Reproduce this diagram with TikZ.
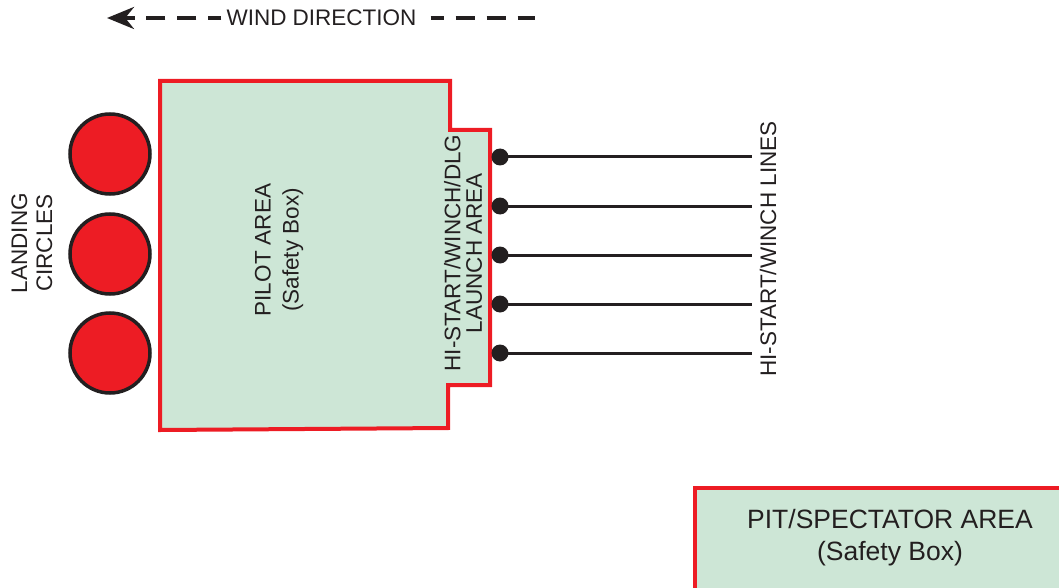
\documentclass[tikz,border=0pt]{standalone}
\usepackage{fontspec}
\setmainfont{Liberation Sans}
\usetikzlibrary{arrows.meta,positioning}
\definecolor{zonered}{RGB}{237,28,36}
\definecolor{zonegreen}{RGB}{205,230,214}
\definecolor{inkblack}{RGB}{35,31,32}

\begin{document}
\begin{tikzpicture}[x=1pt,y=-1pt,
    label22/.style={text=inkblack, font=\fontsize{22.5}{25}\selectfont, align=center, inner sep=0pt},
    zone/.style={draw=zonered, fill=zonegreen, line width=4pt, line join=miter},
    landcircle/.style={circle, draw=inkblack, fill=zonered, line width=3.5pt, minimum size=80pt, inner sep=0pt},
    linedot/.style={circle, fill=inkblack, minimum size=17pt, inner sep=0pt},
    winddash/.style={inkblack, line width=4pt, dash pattern=on 19pt off 12pt, dash phase=6pt}]
    \clip (0,0) rectangle (1059,588);

    % wind direction
    \node[label22, inner sep=5pt] (wind) at (321.5,18) {WIND DIRECTION};
    \coordinate (windtip) at (107,18);
    \coordinate (windback) at (134,18);
    \coordinate (windend) at (535,18);
    \draw[inkblack, line width=4pt, -{Stealth[length=27pt,width=22pt]}] (windback) -- (windtip);
    \draw[winddash] (wind.west) -- (windback);
    \draw[winddash] (wind.east) ++(9,0) -- (windend);

    % pilot area and launch area
    \draw[zone] (160,81) -- (450,81) -- (450,130) -- (490,130) -- (490,385)
        -- (448,385) -- (448,428) -- (160,430) -- cycle;
    \node[label22, rotate=90, font=\fontsize{22.5}{28}\selectfont] (pilot) at (279,250) {PILOT AREA\\(Safety Box)};
    \node[label22, rotate=90, font=\fontsize{22.5}{21.5}\selectfont] (launch) at (463,253) {HI-START/WINCH/DLG\\LAUNCH AREA};

    % landing circles
    \node[landcircle] (c1) at (110,154) {};
    \node[landcircle] (c2) at (110,254) {};
    \node[landcircle] (c3) at (110,353) {};
    \node[label22, rotate=90] (landing) at (32,243) {LANDING\\CIRCLES};

    % winch lines
    \foreach \i/\y in {1/157,2/206,3/255,4/304,5/353} {
        \node[linedot] (d\i) at (500,\y) {};
        \coordinate (e\i) at (752,\y);
        \draw[inkblack, line width=3pt] (d\i.center) -- (e\i);
    }
    \node[label22, rotate=90] (lines) at (768,249) {HI-START/WINCH LINES};

    % pit area
    \draw[zone] (695,488) rectangle (1075,600);
    \node[label22, font=\fontsize{26.5}{32}\selectfont] (pit) at (890,538) {PIT/SPECTATOR AREA\\(Safety Box)};
\end{tikzpicture}
\end{document}
